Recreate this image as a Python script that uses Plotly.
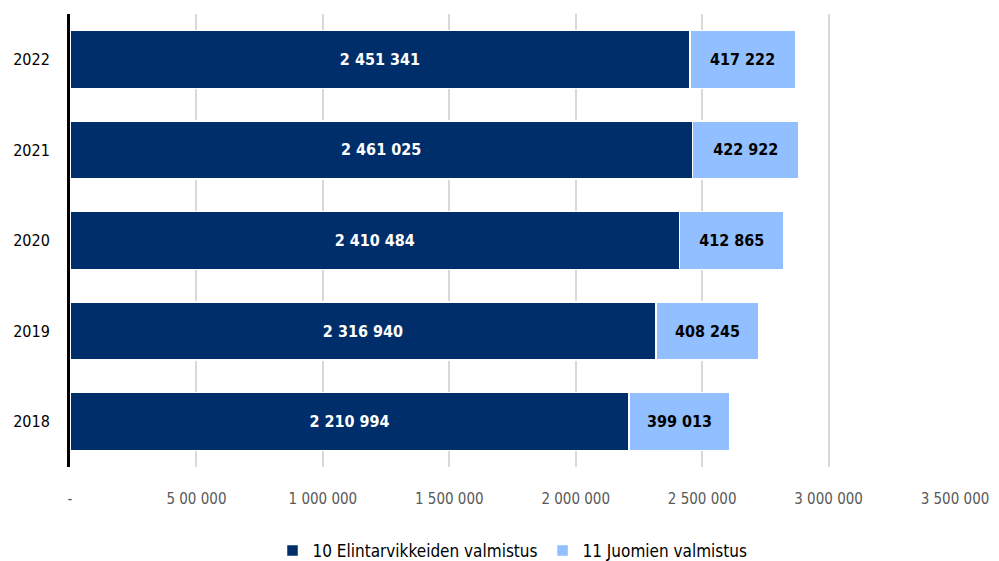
import plotly.graph_objects as go

years = ["2018", "2019", "2020", "2021", "2022"]
food = [2210994, 2316940, 2410484, 2461025, 2451341]
drinks = [399013, 408245, 412865, 422922, 417222]
tick_vals = [0, 500000, 1000000, 1500000, 2000000, 2500000, 3000000, 3500000]
tick_text = ["-", "5 00 000", "1 000 000", "1 500 000", "2 000 000", "2 500 000", "3 000 000", "3 500 000"]

FONT = "DejaVu Sans Condensed, Roboto, sans-serif"

def fmt(v):
    return f"{v:,}".replace(",", " ")

fig = go.Figure()
fig.add_trace(go.Bar(
    y=years, x=food, orientation="h", name="10 Elintarvikkeiden valmistus",
    marker=dict(color="#002e6a", line=dict(color="white", width=1.5)),
    text=[fmt(v) for v in food], textposition="inside", insidetextanchor="middle",
    textfont=dict(family=FONT, size=16, color="white", weight="bold"),
))
fig.add_trace(go.Bar(
    y=years, x=drinks, orientation="h", name="11 Juomien valmistus",
    marker=dict(color="#91bfff", line=dict(color="white", width=1.5)),
    text=[fmt(v) for v in drinks], textposition="inside", insidetextanchor="middle",
    textfont=dict(family=FONT, size=16, color="black", weight="bold"),
))
fig.update_layout(
    barmode="stack", bargap=0.36,
    width=991, height=553,
    margin=dict(l=62, r=44, t=6, b=94),
    plot_bgcolor="white", paper_bgcolor="white",
    font=dict(family=FONT, size=15, color="black"),
    uniformtext=dict(mode=False),
    xaxis=dict(
        range=[0, 3500000], tickvals=tick_vals, ticktext=tick_text,
        showgrid=True, gridcolor="#d9d9d9", gridwidth=2,
        zeroline=False, showline=False, automargin=False,
        tickfont=dict(family=FONT, size=15, color="#595959"),
        ticks="", ticklabelstandoff=21,
    ),
    yaxis=dict(
        showline=True, linecolor="black", linewidth=3, automargin=False,
        tickfont=dict(family=FONT, size=16, color="black"),
        ticks="", ticklabelstandoff=14,
    ),
    legend=dict(orientation="h", x=0.5, xanchor="center",
                yref="container", y=0.018, yanchor="middle",
                font=dict(family=FONT, size=17, color="black"),
                traceorder="normal"),
)
fig.write_html("out.html")
